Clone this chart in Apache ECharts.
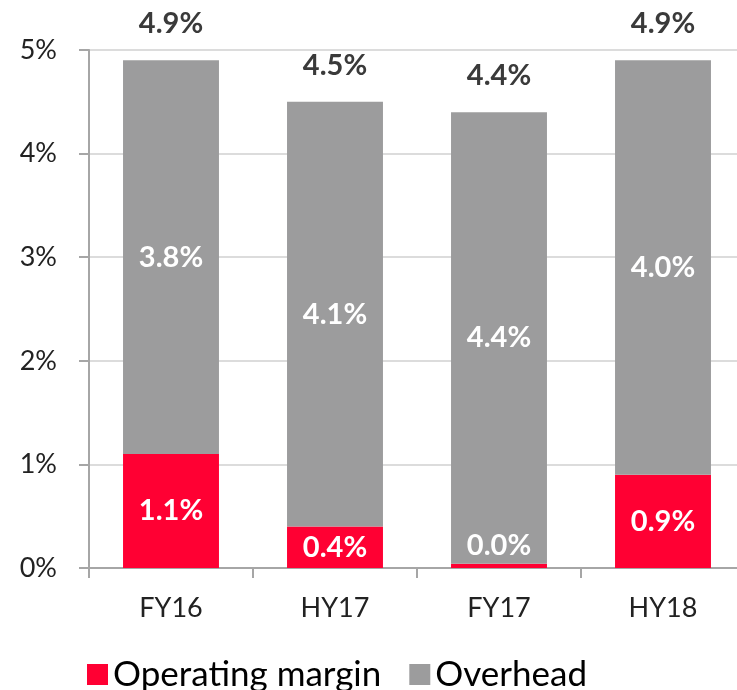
<!DOCTYPE html>
<html>
<head>
<meta charset="utf-8">
<script src="https://cdn.jsdelivr.net/npm/echarts@6/dist/echarts.min.js"></script>
<style>html,body{margin:0;padding:0;background:#fff}#c{width:737px;height:690px}</style>
</head>
<body>
<div id="c"></div>
<script>
const categories = ['FY16', 'HY17', 'FY17', 'HY18'];
const operatingMargin = [1.1, 0.4, 0.04, 0.9];
const overhead = [3.8, 4.1, 4.36, 4.0];
const totals = [4.9, 4.5, 4.4, 4.9];
const yTicks = [0, 1, 2, 3, 4, 5];

const FONT = 'Lato, "Open Sans", sans-serif';
const chart = echarts.init(document.getElementById('c'));
chart.setOption({
  animation: false,
  textStyle: { fontFamily: FONT },
  grid: { left: 89, width: 656, top: 50, height: 518, outerBoundsMode: 'none', containLabel: false },
  legend: {
    data: ['Operating margin', 'Overhead'],
    left: 82, top: 652,
    icon: 'rect', itemWidth: 21, itemHeight: 21, itemGap: 28,
    textStyle: { fontSize: 35, color: '#000', fontFamily: FONT }
  },
  xAxis: {
    type: 'category', data: categories,
    axisLine: { lineStyle: { color: '#a6a6a6', width: 2 } },
    axisTick: { show: true, length: 10, lineStyle: { color: '#a6a6a6', width: 2 } },
    axisLabel: { fontSize: 27, color: '#222', margin: 27, fontFamily: FONT }
  },
  yAxis: {
    type: 'value', min: yTicks[0], max: yTicks[yTicks.length - 1], interval: 1,
    axisLine: { show: true, lineStyle: { color: '#a6a6a6', width: 2 } },
    axisTick: { show: true, length: 10, lineStyle: { color: '#a6a6a6', width: 2 } },
    splitLine: { lineStyle: { color: '#dcdcdc', width: 2 } },
    axisLabel: { fontSize: 27, color: '#222', margin: 32, formatter: v => v + '%', fontFamily: FONT }
  },
  series: [
    {
      name: 'Operating margin', type: 'bar', stack: 's', barCategoryGap: '41.5%',
      itemStyle: { color: '#FF0033' },
      data: operatingMargin.map((v, i) => ({
        value: v,
        label: v < 0.2 ? { position: 'top', distance: 4 } : { position: 'inside' }
      })),
      label: {
        show: true, color: '#fff', fontSize: 29, fontWeight: 'bold', fontFamily: FONT,
        formatter: p => p.value.toFixed(1) + '%'
      }
    },
    {
      name: 'Overhead', type: 'bar', stack: 's',
      itemStyle: { color: '#9c9c9d' },
      data: overhead,
      label: {
        show: true, position: 'inside', color: '#fff', fontSize: 29, fontWeight: 'bold', fontFamily: FONT,
        formatter: p => p.value.toFixed(1) + '%'
      }
    },
    {
      name: 'Total', type: 'bar', barGap: '-100%', z: 0,
      itemStyle: { color: 'rgba(0,0,0,0)' },
      data: totals,
      label: {
        show: true, position: 'top', distance: 22, color: '#3a3a3a', fontSize: 29, fontWeight: 'bold', fontFamily: FONT,
        formatter: p => p.value.toFixed(1) + '%'
      }
    }
  ]
});
</script>
</body>
</html>
